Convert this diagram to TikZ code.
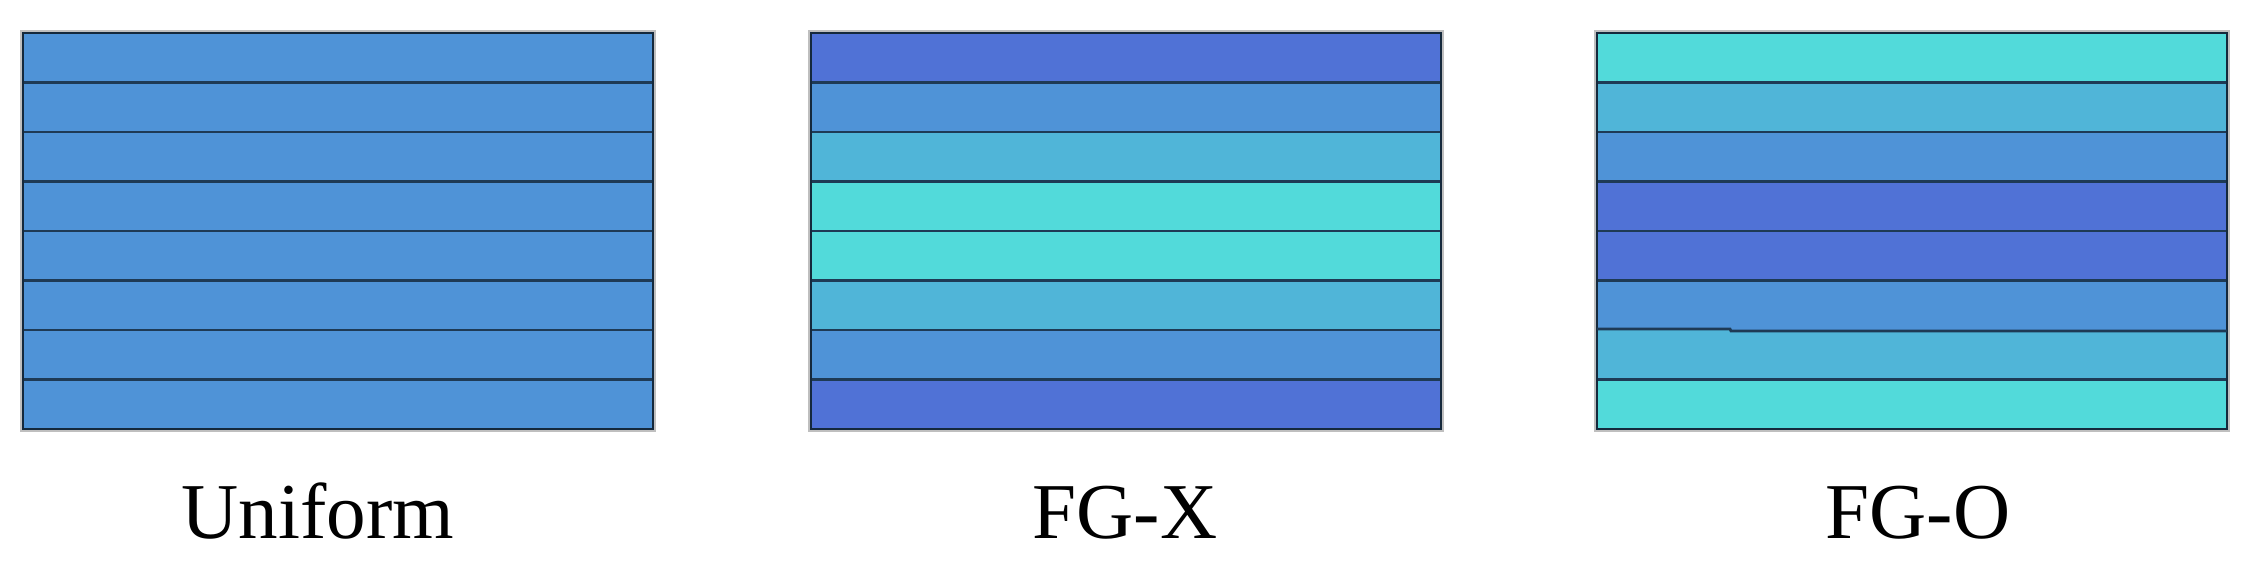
\documentclass[tikz,border=0pt]{standalone}
\usepackage{fontspec}
\setmainfont{Liberation Serif}
\definecolor{cA}{HTML}{5072D6}
\definecolor{cB}{HTML}{4F93D7}
\definecolor{cC}{HTML}{50B5D8}
\definecolor{cD}{HTML}{52DADA}
\definecolor{sepc}{HTML}{1E3A55}
\tikzset{
  sepline/.style={draw=sepc, line width=0.8pt},
  frameline/.style={draw=sepc!70!black, line width=0.8pt},
  shadowline/.style={draw=black!25, line width=1.0pt},
  lbl/.style={font=\fontsize{22.5pt}{27pt}\selectfont, anchor=base, inner sep=0pt}
}
\newcommand\mylaminate[3]{% x, color list, skip separator index
  \foreach \c [count=\i from 0] in {#2} {
    \fill[\c] (#1,33+\i*49.5) rectangle ++(630,49.5);
  }
  \foreach \i in {1,...,7} {
    \ifnum\i=#3\relax\else
      \draw[sepline] (#1,33+\i*49.5) -- ++(630,0);
    \fi
  }
  \draw[shadowline] (#1-1.5,31.5) rectangle (#1+631.5,430.5);
  \draw[frameline] (#1,33) rectangle ++(630,396);
}
\begin{document}
\begin{tikzpicture}[x=0.01cm,y=-0.01cm]
\useasboundingbox (0,0) rectangle (2250,565);
\fill[white] (0,0) rectangle (2250,565);
\mylaminate{23}{cB,cB,cB,cB,cB,cB,cB,cB}{0}
\mylaminate{811}{cA,cB,cC,cD,cD,cC,cB,cA}{0}
\mylaminate{1597}{cD,cC,cB,cA,cA,cB,cC,cD}{6}
\draw[sepline] (1597,329) -- (1730,329) -- (1731,331) -- (2227,331);
\node[lbl] (u) at (318,539) {Uniform};
\node[lbl] (x) at (1125,539) {FG-X};
\node[lbl] (o) at (1918,539) {FG-O};
\end{tikzpicture}
\end{document}
